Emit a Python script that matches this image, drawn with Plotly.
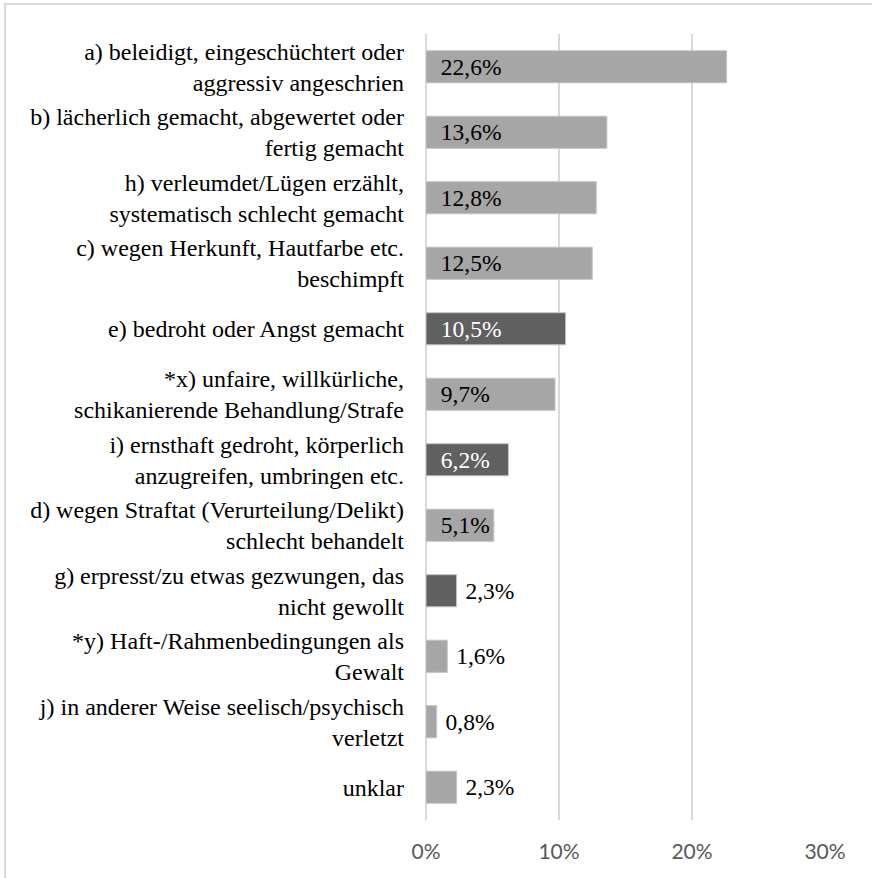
import plotly.graph_objects as go

categories = [
    "a) beleidigt, eingeschüchtert oder<br>aggressiv angeschrien",
    "b) lächerlich gemacht, abgewertet oder<br>fertig gemacht",
    "h) verleumdet/Lügen erzählt,<br>systematisch schlecht gemacht",
    "c) wegen Herkunft, Hautfarbe etc.<br>beschimpft",
    "e) bedroht oder Angst gemacht",
    "*x) unfaire, willkürliche,<br>schikanierende Behandlung/Strafe",
    "i) ernsthaft gedroht, körperlich<br>anzugreifen, umbringen etc.",
    "d) wegen Straftat (Verurteilung/Delikt)<br>schlecht behandelt",
    "g) erpresst/zu etwas gezwungen, das<br>nicht gewollt",
    "*y) Haft-/Rahmenbedingungen als<br>Gewalt",
    "j) in anderer Weise seelisch/psychisch<br>verletzt",
    "unklar",
]
values = [22.6, 13.6, 12.8, 12.5, 10.5, 9.7, 6.2, 5.1, 2.3, 1.6, 0.8, 2.3]
highlight = [False, False, False, False, True, False, True, False, True, False, False, False]
tick_values = [0, 10, 20, 30]
tick_labels = ["0%", "10%", "20%", "30%"]

SERIF = "Liberation Serif"
LIGHT = "#a6a6a6"
DARK = "#606060"
W, H = 872, 878
ML, MR, MT, MB = 426, 47, 34, 58

colors = [DARK if h else LIGHT for h in highlight]
positions = ["inside" if v >= 5 else "outside" for v in values]
texts = []
for v, p in zip(values, positions):
    lbl = f"{v:.1f}".replace(".", ",") + "%"
    pad = "\u00a0\u00a0" if p == "inside" else "\u00a0"
    texts.append(pad + lbl)
text_colors = ["#ffffff" if (h and p == "inside") else "#000000" for h, p in zip(highlight, positions)]

fig = go.Figure(
    go.Bar(
        x=values,
        y=categories,
        orientation="h",
        marker=dict(color=colors, line=dict(color="#c4c4c4", width=1)),
        text=texts,
        textposition=positions,
        insidetextanchor="start",
        constraintext="none",
        textfont=dict(family=SERIF, size=23.5, color=text_colors),
        cliponaxis=False,
        hoverinfo="skip",
    )
)

pw = W - ML - MR
ph = H - MT - MB
fig.add_shape(
    type="rect",
    xref="paper", yref="paper",
    x0=(5 - ML) / pw, x1=(W + 3 - ML) / pw,
    y0=(H - MB - (H + 3)) / ph, y1=(H - MB - 4) / ph,
    line=dict(color="#d9d9d9", width=2),
    fillcolor="rgba(0,0,0,0)",
    layer="below",
)

fig.update_layout(
    width=W, height=H,
    margin=dict(l=ML, r=MR, t=MT, b=MB, pad=0),
    font=dict(family=SERIF, size=24, color="#000000"),
    paper_bgcolor="white",
    plot_bgcolor="white",
    bargap=0.51,
    showlegend=False,
    xaxis=dict(
        range=[0, 30],
        tickmode="array",
        tickvals=tick_values,
        ticktext=tick_labels,
        showgrid=True,
        gridcolor="#d9d9d9",
        gridwidth=2,
        zeroline=True,
        zerolinecolor="#d9d9d9",
        zerolinewidth=2,
        showline=False,
        ticks="",
        tickfont=dict(family="Lato", size=21, color="#595959"),
        ticklabelstandoff=17,
        fixedrange=True,
    ),
    yaxis=dict(
        categoryorder="array",
        categoryarray=categories[::-1],
        range=[-0.5, len(categories) - 0.5],
        showgrid=False,
        zeroline=False,
        showline=False,
        ticks="",
        tickfont=dict(family=SERIF, size=24, color="#000000"),
        ticklabelstandoff=21,
        fixedrange=True,
    ),
)

fig.write_html(
    "out.html",
    config={"displayModeBar": False},
    post_script="document.body.style.margin='0';document.body.style.overflow='hidden';",
)
